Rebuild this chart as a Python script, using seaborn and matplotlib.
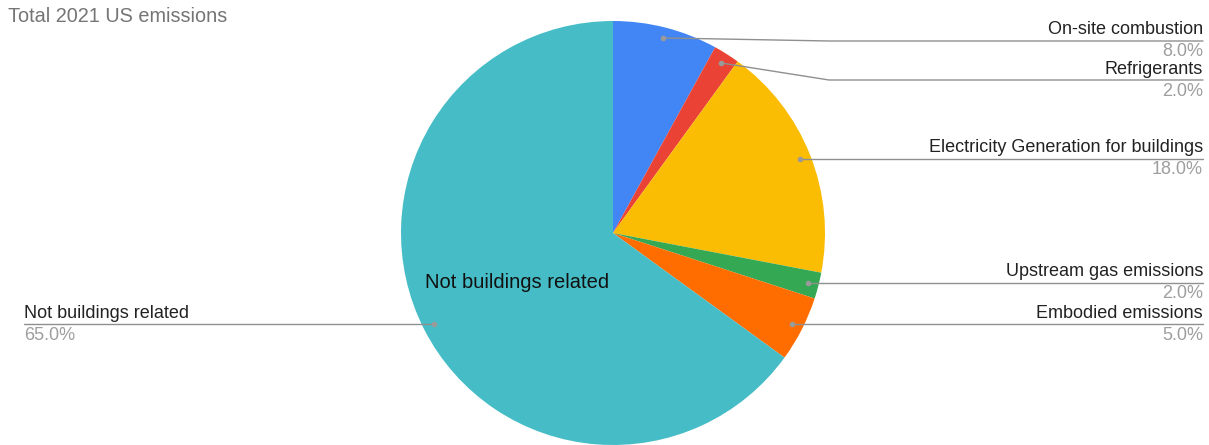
import numpy as np
import matplotlib
matplotlib.use("Agg")
import matplotlib.pyplot as plt
import seaborn as sns

# Data
categories = [
    "On-site combustion",
    "Refrigerants",
    "Electricity Generation for buildings",
    "Upstream gas emissions",
    "Embodied emissions",
    "Not buildings related",
]
shares = [8.0, 2.0, 18.0, 2.0, 5.0, 65.0]
title = "Total 2021 US emissions"

# Styling
slice_colors = ["#4285F4", "#EA4335", "#FBBC04", "#34A853", "#FF6D01", "#46BDC6"]
label_line_y = [41, 80, 159, 283, 324, 324]      # pixel rows of leader lines
label_side = ["right", "right", "right", "right", "right", "left"]

sns.set_theme(style="white")
plt.rcParams["font.family"] = ["Liberation Sans", "DejaVu Sans"]

W, H = 1209, 445
fig = plt.figure(figsize=(W / 100, H / 100), dpi=100)
ax = fig.add_axes([0, 0, 1, 1])


def py(y):
    """Convert a top-down pixel row to axis coordinates."""
    return H - y


cx, cy, R = 613, py(233), 212

ax.pie(
    shares,
    colors=slice_colors,
    startangle=90,
    counterclock=False,
    center=(cx, cy),
    radius=R,
    wedgeprops=dict(linewidth=0),
)
ax.set_xlim(0, W)
ax.set_ylim(0, H)
ax.set_aspect("equal")
ax.axis("off")

fracs = np.array(shares) / np.sum(shares)
mids = (np.cumsum(fracs) - fracs / 2) * 2 * np.pi  # clockwise from top

line_col = "#8f8f8f"
dot_col = "#9a9a9a"
name_col = "#222222"
pct_col = "#9e9e9e"
fs = 13

for name, val, th, ly, side in zip(categories, shares, mids, label_line_y, label_side):
    dx = cx + 0.95 * R * np.sin(th)
    dy = cy + 0.95 * R * np.cos(th)
    ly_m = py(ly)
    ax.plot([dx], [dy], "o", ms=3, color=dot_col, zorder=5)
    if side == "right":
        x_end = 1203
        if abs(dy - ly_m) > 2:
            ax.plot([dx, 829, x_end], [dy, ly_m, ly_m], color=line_col, lw=1, zorder=4)
        else:
            ax.plot([dx, x_end], [ly_m, ly_m], color=line_col, lw=1, zorder=4)
        ax.text(x_end, ly_m + 11, name, ha="right", va="center", fontsize=fs, color=name_col)
        ax.text(x_end, ly_m - 11, f"{val:.1f}%", ha="right", va="center", fontsize=fs, color=pct_col)
    else:
        x_start = 24
        ax.plot([x_start, dx], [ly_m, ly_m], color=line_col, lw=1, zorder=4)
        ax.text(x_start, ly_m + 11, name, ha="left", va="center", fontsize=fs, color=name_col)
        ax.text(x_start, ly_m - 11, f"{val:.1f}%", ha="left", va="center", fontsize=fs, color=pct_col)

# In-slice label for the largest slice
big = int(np.argmax(shares))
tx = cx + 0.51 * R * np.sin(mids[big])
ty = cy + 0.51 * R * np.cos(mids[big])
ax.text(tx, ty, categories[big], ha="center", va="center", fontsize=14.5, color="#111111")

ax.text(8, py(17), title, ha="left", va="center", fontsize=14.3, color="#757575")

fig.savefig("out.png", dpi=100)
